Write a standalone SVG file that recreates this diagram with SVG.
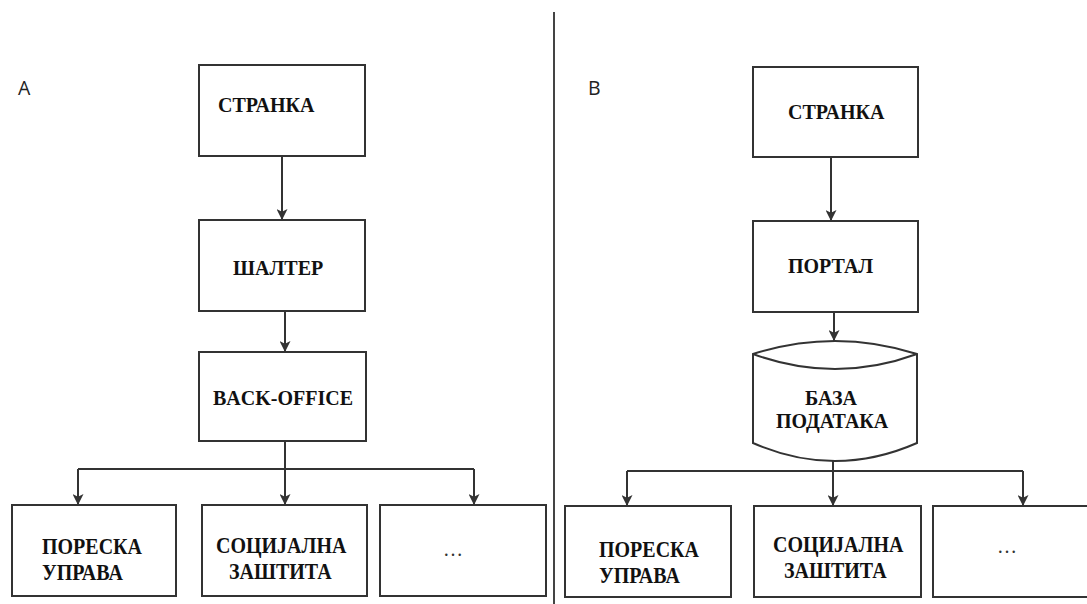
<svg xmlns="http://www.w3.org/2000/svg" width="1087" height="604" viewBox="0 0 1087 604">
<style>
.box{fill:#fff;stroke:#333;stroke-width:2}
.ln{fill:none;stroke:#333;stroke-width:2}
.t{font-weight:bold;font-size:20px;fill:#111}
.d{font-size:20px;fill:#333}
.lab{font-size:19.5px;fill:#222}
</style>
<defs>
<marker id="ah" viewBox="0 0 10 10" refX="10" refY="5" markerWidth="5.5" markerHeight="5.5" orient="auto" markerUnits="strokeWidth">
<path d="M0,0 L10,5 L0,10 L2.5,5 z" fill="#333"/>
</marker>
</defs>
<rect width="1087" height="604" fill="#fff"/>
<line x1="554" y1="12" x2="554" y2="604" stroke="#444" stroke-width="2"/>
<g font-family="'Open Sans', 'DejaVu Sans', sans-serif">
<text class="lab" x="18" y="95">A</text>
<text class="lab" x="588" y="95">B</text>
</g>
<g id="connectors">
<line class="ln" x1="282" y1="156" x2="282" y2="220" marker-end="url(#ah)"/>
<line class="ln" x1="285" y1="311" x2="285" y2="352" marker-end="url(#ah)"/>
<line class="ln" x1="285" y1="441" x2="285" y2="505" marker-end="url(#ah)"/>
<polyline class="ln" points="78,469 474,469"/>
<line class="ln" x1="78" y1="469" x2="78" y2="505" marker-end="url(#ah)"/>
<line class="ln" x1="474" y1="469" x2="474" y2="505" marker-end="url(#ah)"/>
<line class="ln" x1="831" y1="157" x2="831" y2="221" marker-end="url(#ah)"/>
<line class="ln" x1="834" y1="312" x2="834" y2="341" marker-end="url(#ah)"/>
<line class="ln" x1="833" y1="461" x2="833" y2="506" marker-end="url(#ah)"/>
<polyline class="ln" points="627,471 1023,471"/>
<line class="ln" x1="627" y1="471" x2="627" y2="506" marker-end="url(#ah)"/>
<line class="ln" x1="1023" y1="471" x2="1023" y2="506" marker-end="url(#ah)"/>
</g>
<g font-family="'Liberation Serif', 'Times New Roman', serif">
<g id="a-stranka"><rect class="box" x="199" y="65" width="166" height="91"/><text class="t" x="218" y="112">СТРАНКА</text></g>
<g id="a-salter"><rect class="box" x="199" y="220" width="166" height="91"/><text class="t" x="233" y="275">ШАЛТЕР</text></g>
<g id="a-backoffice"><rect class="box" x="199" y="352" width="167" height="89"/><text class="t" x="213" y="405">BACK-OFFICE</text></g>
<g id="a-poreska"><rect class="box" x="12" y="505" width="164" height="91"/><text class="t" transform="translate(42,554) scale(1,1.2)">ПОРЕСКА</text><text class="t" transform="translate(42,580) scale(1,1.2)">УПРАВА</text></g>
<g id="a-socijalna"><rect class="box" x="202" y="505" width="165" height="91"/><text class="t" transform="translate(216,553) scale(1,1.2)">СОЦИЈАЛНА</text><text class="t" transform="translate(229,579) scale(1,1.2)">ЗАШТИТА</text></g>
<g id="a-more"><rect class="box" x="380" y="505" width="166" height="91"/><text class="d" x="443" y="556">…</text></g>
<g id="b-stranka"><rect class="box" x="753" y="67" width="165" height="90"/><text class="t" x="788" y="119">СТРАНКА</text></g>
<g id="b-portal"><rect class="box" x="753" y="221" width="165" height="91"/><text class="t" x="788" y="273">ПОРТАЛ</text></g>
<g id="b-baza"><path class="box" d="M753,354 Q835,328 917,354 L917,443 Q835,479 753,443 Z"/><path class="ln" d="M753,354 Q835,384 917,354"/><text class="t" transform="translate(805,405) scale(1,1.05)">БАЗА</text><text class="t" transform="translate(776,428) scale(1,1.05)">ПОДАТАКА</text></g>
<g id="b-poreska"><rect class="box" x="565" y="506" width="166" height="91"/><text class="t" transform="translate(599,557) scale(1,1.2)">ПОРЕСКА</text><text class="t" transform="translate(599,583) scale(1,1.2)">УПРАВА</text></g>
<g id="b-socijalna"><rect class="box" x="754" y="506" width="167" height="91"/><text class="t" transform="translate(773,552) scale(1,1.2)">СОЦИЈАЛНА</text><text class="t" transform="translate(784,578) scale(1,1.2)">ЗАШТИТА</text></g>
<g id="b-more"><rect class="box" x="933" y="506" width="160" height="91"/><text class="d" x="997" y="553">…</text></g>
</g>
</svg>
